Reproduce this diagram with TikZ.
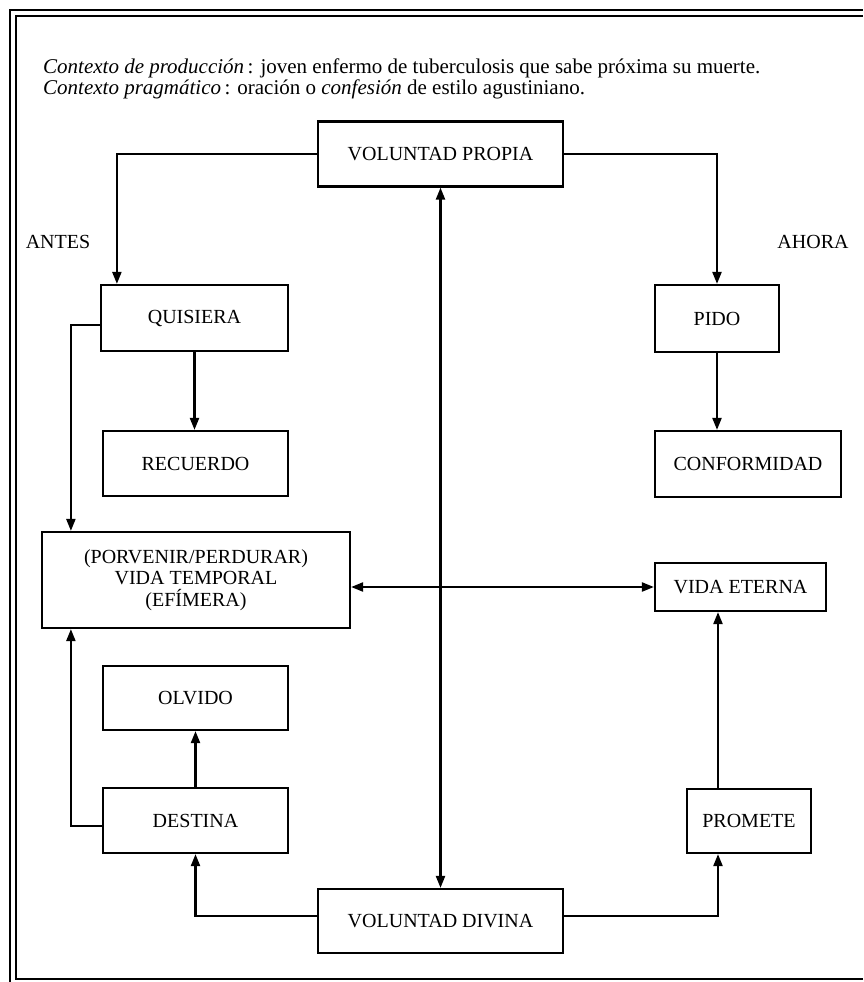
\documentclass[tikz,border=0pt]{standalone}
\usepackage{fontspec}
\setmainfont{Liberation Serif}
\usetikzlibrary{arrows.meta}
\tikzset{
  boxnode/.style={draw, line width=2.2pt, inner sep=0pt, align=center,
    font=\fontsize{20}{21.5}\selectfont},
  lbl/.style={inner sep=0pt, font=\fontsize{20}{21.5}\selectfont},
  hdr/.style={inner sep=0pt, anchor=base west, font=\fontsize{21}{20}\selectfont},
  link/.style={line width=2.2pt},
  tip/.style={},
  arr/.style={link, -{Triangle[length=12pt,width=9pt]}},
  darr/.style={link, {Triangle[length=12pt,width=9pt]}-{Triangle[length=12pt,width=9pt]}},
  frameline/.style={line width=2.4pt}
}
\begin{document}
\begin{tikzpicture}[x=1pt,y=-1pt]
\useasboundingbox (0,0) rectangle (863,982);

% double frame (open on the right)
\draw[frameline] (10,982) -- (10,10) -- (863,10);
\draw[frameline] (863,979) -- (16,979) -- (16,16) -- (863,16);

% heading
\node[hdr] (h1) at (43,74) {\textit{Contexto de producción}\,: joven enfermo de tuberculosis que sabe próxima su muerte.};
\node[hdr] (h2) at (43,94) {\textit{Contexto pragmático}\,: oración o \textit{confesión} de estilo agustiniano.};

% side labels
\node[lbl] (antes) at (58,242) {ANTES};
\node[lbl] (ahora) at (813,242) {AHORA};

% boxes
\node[boxnode, minimum width=245pt, minimum height=65pt] (vp)   at (440.5,154)   {VOLUNTAD PROPIA};
\node[boxnode, minimum width=187pt, minimum height=66pt] (quis) at (194.5,318)   {QUISIERA};
\node[boxnode, minimum width=185pt, minimum height=65pt] (recu) at (195.5,463.5) {RECUERDO};
\node[boxnode, minimum width=308pt, minimum height=96pt] (porv) at (196,580)
  {(PORVENIR/PERDURAR)\\VIDA TEMPORAL\\(EFÍMERA)};
\node[boxnode, minimum width=124pt, minimum height=67pt] (pido) at (717,318.5)   {PIDO};
\node[boxnode, minimum width=186pt, minimum height=66pt] (conf) at (748,464)     {CONFORMIDAD};
\node[boxnode, minimum width=171pt, minimum height=48pt] (vida) at (740.5,587)   {VIDA ETERNA};
\node[boxnode, minimum width=185pt, minimum height=64pt] (olv)  at (195.5,698)   {OLVIDO};
\node[boxnode, minimum width=185pt, minimum height=65pt] (dest) at (195.5,820.5) {DESTINA};
\node[boxnode, minimum width=124pt, minimum height=64pt] (prom) at (749,821)     {PROMETE};
\node[boxnode, minimum width=245pt, minimum height=64pt] (vd)   at (440.5,921)   {VOLUNTAD DIVINA};

% connectors
\draw[arr] (vp.west) -| ([xshift=17pt]quis.north west);
\draw[arr] (vp.east) -| (pido.north);
\draw[darr] (vp.south) -- (vd.north);
\draw[arr] (quis.south) -- (quis.south |- recu.north);
\draw[arr] (pido.south) -- (pido.south |- conf.north);
\draw[arr] ([yshift=-7pt]quis.west) -| ([xshift=30pt]porv.north west);
\draw[arr] ([yshift=-5.5pt]dest.west) -| ([xshift=30pt]porv.south west);
\draw[darr] (vida.west -| porv.east) -- (vida.west);
\draw[arr] (dest.north) -- (olv.south);
\draw[arr] ([yshift=5pt]vd.west) -| (dest.south);
\draw[arr] ([yshift=5pt]vd.east) -| ([xshift=-31pt]prom.south);
\draw[arr] ([xshift=-31pt]prom.north) -- ([xshift=-31pt]prom.north |- vida.south);
\end{tikzpicture}
\end{document}
